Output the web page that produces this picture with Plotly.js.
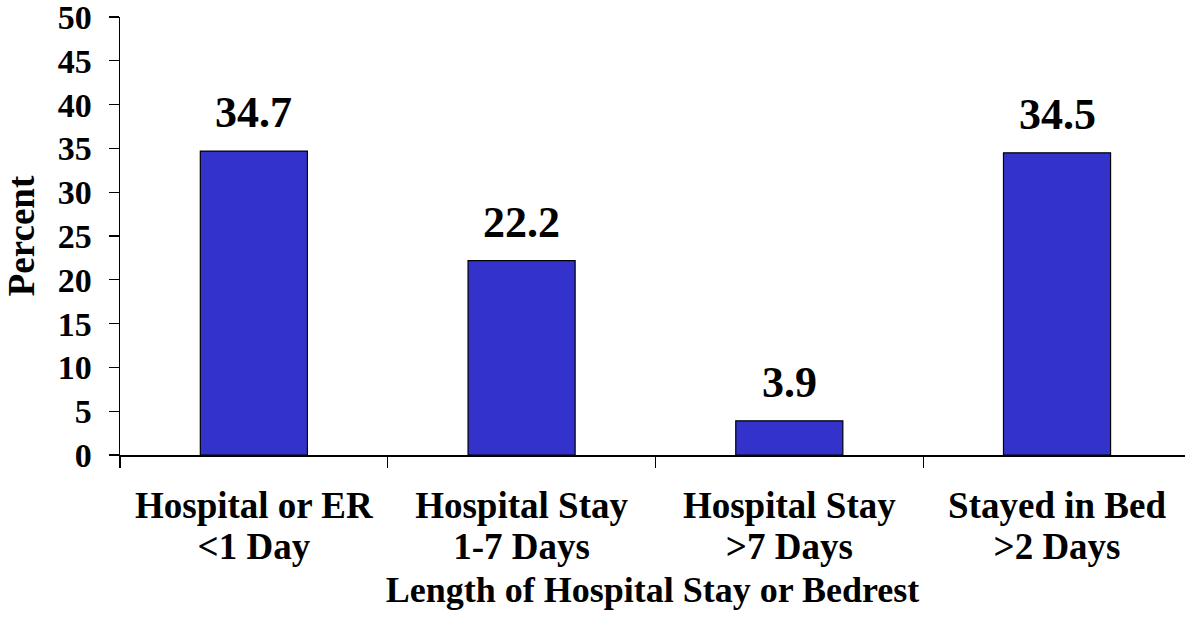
<!DOCTYPE html>
<html>
<head>
<meta charset="utf-8">
<script src="https://cdn.plot.ly/plotly-3.0.1.min.js"></script>
<style>html,body{margin:0;padding:0;background:#fff;}#chart{width:1185px;height:624px;}</style>
</head>
<body>
<div id="chart"></div>
<script>
const categoryKeys = ["c1", "c2", "c3", "c4"];
const labelLine1 = ["Hospital or ER", "Hospital Stay", "Hospital Stay", "Stayed in Bed"];
const labelLine2 = ["<1 Day", "1-7 Days", ">7 Days", ">2 Days"];
const values = [34.7, 22.2, 3.9, 34.5];
const valueLabels = ["34.7", "22.2", "3.9", "34.5"];
const yTicks = [0, 5, 10, 15, 20, 25, 30, 35, 40, 45, 50];
const xTitle = "Length of Hospital Stay or Bedrest";
const yTitle = "Percent";

const FONT = "'Liberation Serif', 'Times New Roman', serif";

const esc = s => s.replace(/&/g, "&amp;").replace(/</g, "&lt;").replace(/>/g, "&gt;");

const trace = {
  type: "bar",
  x: categoryKeys,
  y: values,
  width: 0.4,
  marker: {color: "#3333cc", line: {color: "#000", width: 1.2}},
  hoverinfo: "none"
};
const trace2 = {
  type: "bar", x: categoryKeys, y: values.map(() => 0), xaxis: "x2", yaxis: "y",
  marker: {color: "rgba(0,0,0,0)"}, hoverinfo: "none", showlegend: false
};

const annotations = values.map((v, i) => ({
  x: categoryKeys[i], y: v, xref: "x", yref: "y",
  text: "<b>" + valueLabels[i] + "</b>",
  showarrow: false, yanchor: "bottom", yshift: 12,
  font: {family: FONT, size: 44, color: "#000"}
}));

const xCommon = {
  type: "category",
  range: [-0.5, 3.478],
  showgrid: false, zeroline: false,
  tickfont: {family: FONT, size: 37, color: "#000"}
};

const layout = {
  width: 1185, height: 624,
  margin: {l: 120, r: 0, t: 17, b: 169},
  paper_bgcolor: "#fff", plot_bgcolor: "#fff",
  showlegend: false,
  barmode: "overlay",
  font: {family: FONT, color: "#000"},
  xaxis: Object.assign({}, xCommon, {
    tickvals: categoryKeys, ticktext: labelLine1.map(c => "<b>" + esc(c) + "</b>"),
    tickson: "boundaries",
    ticks: "outside", ticklen: 11, tickwidth: 1.2, tickcolor: "#000",
    showline: true, linecolor: "#000", linewidth: 1.5,
    ticklabelstandoff: 17,
    title: {text: "<b>" + xTitle + "</b>", font: {family: FONT, size: 36, color: "#000"}, standoff: 52}
  }),
  xaxis2: Object.assign({}, xCommon, {
    overlaying: "x", anchor: "y", side: "bottom",
    tickvals: categoryKeys, ticktext: labelLine2.map(c => "<b>" + esc(c) + "</b>"),
    ticks: "", showline: false,
    ticklabelstandoff: 66
  }),
  yaxis: {
    range: [0, 50],
    tickvals: yTicks, ticktext: yTicks.map(t => "<b>" + t + "</b>"),
    ticks: "outside", ticklen: 10, tickwidth: 1.2, tickcolor: "#000",
    showline: true, linecolor: "#000", linewidth: 1.5,
    showgrid: false, zeroline: false,
    tickfont: {family: FONT, size: 34, color: "#000"},
    ticklabelstandoff: 10,
    ticklabeloverflow: "allow",
    title: {text: "<b>" + yTitle + "</b>", font: {family: FONT, size: 37, color: "#000"}, standoff: 12}
  },
  annotations: annotations
};

Plotly.newPlot("chart", [trace, trace2], layout, {displayModeBar: false, staticPlot: true});
</script>
</body>
</html>
